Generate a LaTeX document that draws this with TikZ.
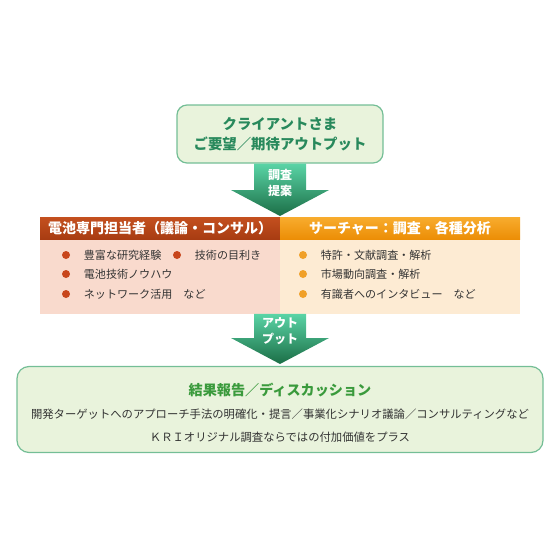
\documentclass[tikz,border=0pt]{standalone}
\usepackage{fontspec}
\setmainfont{Noto Sans CJK JP}
\usetikzlibrary{positioning,calc}
\definecolor{BoxLine}{HTML}{74BE96}
\definecolor{BoxFill}{HTML}{E9F3DC}
\definecolor{ClientText}{HTML}{28895C}
\definecolor{ReportText}{HTML}{3A9A3C}
\definecolor{TextGray}{HTML}{333333}
\definecolor{ArrowTop}{HTML}{5AD4A6}
\definecolor{ArrowBottom}{HTML}{1B6E46}
\definecolor{ExpertTop}{HTML}{C4501F}
\definecolor{ExpertBottom}{HTML}{A83C12}
\definecolor{ExpertFill}{HTML}{F9DACD}
\definecolor{ExpertDot}{HTML}{C8461C}
\definecolor{SearchTop}{HTML}{F8AC2E}
\definecolor{SearchBottom}{HTML}{EC8E06}
\definecolor{SearchFill}{HTML}{FDEBD3}
\definecolor{SearchDot}{HTML}{F0A028}

% block arrow from #1 down to tip #2
\newcommand{\blockarrow}[2]{%
  \shade[top color=ArrowTop,bottom color=ArrowBottom]
    ($(#1)+(-26,0)$) -- ($(#2)+(-26,-26)$) -- ($(#2)+(-49,-26)$) -- (#2)
    -- ($(#2)+(49,-26)$) -- ($(#2)+(26,-26)$) -- ($(#1)+(26,0)$) -- cycle;}

\begin{document}
\begin{tikzpicture}[x=0.75pt,y=-0.75pt,
  roundbox/.style={draw=BoxLine,fill=BoxFill,line width=0.9pt},
  headbox/.style={minimum width=180pt,minimum height=16.5pt,inner sep=0pt,
    text=white,font=\fontsize{10.5}{12}\selectfont\bfseries},
  bodybox/.style={minimum width=180pt,minimum height=55.5pt,inner sep=0pt},
  item/.style={anchor=west,inner sep=0pt,text=TextGray,font=\fontsize{8.3}{10}\selectfont},
  dot/.style={circle,inner sep=0pt,minimum size=6pt},
  arrowtext/.style={text=white,align=center,inner sep=0pt,
    font=\fontsize{9}{12.5}\selectfont\bfseries}]
  \useasboundingbox (0,0) rectangle (560,560);

  % client request
  \node[roundbox,rounded corners=7.5pt,minimum width=154.5pt,minimum height=43.5pt,
    align=center,text=ClientText,font=\fontsize{10.8}{15}\selectfont\bfseries]
    (client) at (280,134) {クライアントさま\\ご要望／期待アウトプット};

  % two teams
  \node[headbox,top color=ExpertTop,bottom color=ExpertBottom] (exphead) at (160,228)
    {電池専門担当者（議論・コンサル）};
  \node[bodybox,fill=ExpertFill,below=0pt of exphead] (expbody) {};
  \node[headbox,top color=SearchTop,bottom color=SearchBottom] (srchead) at (400,228)
    {サーチャー：調査・各種分析};
  \node[bodybox,fill=SearchFill,below=0pt of srchead] (srcbody) {};

  \foreach \n/\x/\y/\txt in {e1/66/255/豊富な研究経験,e2/177/255/技術の目利き,
      e3/66/274/電池技術ノウハウ,e4/66/294/ネットワーク活用　など} {
    \node[dot,fill=ExpertDot] (\n dot) at (\x,\y) {};
    \node[item,right=10pt of \n dot] (\n) {\txt};
  }
  \foreach \n/\y/\txt in {s1/255/特許・文献調査・解析,s2/274/市場動向調査・解析,
      s3/294/有識者へのインタビュー　など} {
    \node[dot,fill=SearchDot] (\n dot) at (303,\y) {};
    \node[item,right=10pt of \n dot] (\n) {\txt};
  }

  % result report
  \node[roundbox,rounded corners=9pt,minimum width=394.5pt,minimum height=64.5pt]
    (report) at (280,409.5) {};
  \node[text=ReportText,font=\fontsize{10.6}{12}\selectfont\bfseries] (rephead)
    at (280,390) {結果報告／ディスカッション};
  \node[text=TextGray,font=\fontsize{8.5}{10}\selectfont] (repline1)
    at (280,414) {開発ターゲットへのアプローチ手法の明確化・提言／事業化シナリオ議論／コンサルティングなど};
  \node[text=TextGray,font=\fontsize{8.5}{10}\selectfont] (repline2)
    at (280,437) {ＫＲＩオリジナル調査ならではの付加価値をプラス};

  % arrows
  \coordinate (tip1) at (280,216);
  \coordinate (tip2) at (280,364);
  \blockarrow{client.south}{tip1}
  \node[arrowtext] (ask) at (280,183) {調査\\提案};
  \blockarrow{expbody.south -| tip2}{tip2}
  \node[arrowtext] (out) at (280,331) {アウト\\プット};
\end{tikzpicture}
\end{document}
